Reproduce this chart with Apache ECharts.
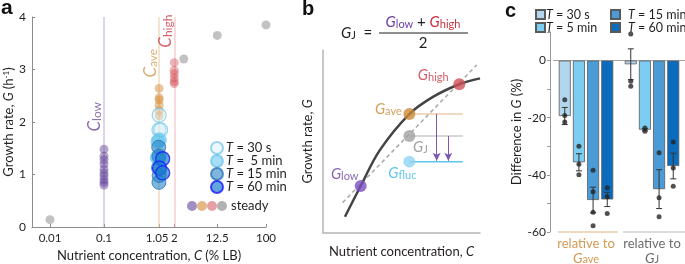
<!DOCTYPE html>
<html><head><meta charset="utf-8">
<script src="https://cdn.jsdelivr.net/npm/echarts@6/dist/echarts.min.js"></script>
<style>html,body{margin:0;padding:0;background:#fff}#c{width:685px;height:264px}</style>
</head><body><div id="c"></div>
<script>
// ---------------- Panel a data ----------------
const aTicks = [0.01, 0.1, 1.05, 2, 12.5, 100];
const cLow = 0.1, cAve = 1.05, cHigh = 2;
const steadyLowG = [1.48, 1.35, 1.28, 1.2, 1.1, 1.03, 0.97, 0.9, 0.85, 0.8];
const steadyAveG = [2.64, 2.46, 2.42, 2.32, 2.22, 2.12];
const steadyHighG = [3.13, 2.98, 2.92, 2.84, 2.77, 2.73];
const steadyOtherC = [0.01, 3, 12.5, 100];
const steadyOtherG = [0.14, 3.2, 3.65, 3.85];
const fluc30sC = [1.05, 1.04, 1.12];
const fluc30sG = [2.13, 1.85, 1.85];
const fluc5mC = [1.0, 1.06, 0.97, 1.03];
const fluc5mG = [1.63, 1.66, 1.32, 1.30];
const fluc15mC = [1.03, 1.04, 1.02, 1.05, 1.04];
const fluc15mG = [1.52, 1.35, 1.13, 0.98, 0.85];
const fluc60mC = [1.22, 1.07, 1.22];
const fluc60mG = [1.30, 1.12, 1.03];
// centre height (in G) of the rotated C labels
const cLowLabelG = 2.1, cAveLabelG = 3.12, cHighLabelG = 3.73;

// ---------------- Panel b (schematic) data ----------------
const curveX = [1.40, 2.40, 3.63, 5.50, 7.03, 8.68, 10];
const curveY = [0.89, 2.57, 4.54, 6.50, 7.45, 8.13, 8.45];
const diagX = [1.25, 9.79];
const diagY = [1.66, 9.18];
const ptLow = [2.40, 2.57], ptAve = [5.5, 6.5], ptHigh = [8.68, 8.13], ptJ = [5.5, 5.3], ptFluc = [5.5, 3.9];
const levelEndX = 8.9;
const arrowX = [7.24, 7.98];

// ---------------- Panel c data ----------------
const cGroups = ['ave', 'J'];
const diff30s = [-19.4, -1.3], err30s = [3.0, 5.4], pts30s = [[-13.7, -19.2, -21.5], [9.3, -7.2, -9.0]];
const diff5m = [-35.6, -24.2], err5m = [3.0, 0.4], pts5m = [[-30, -36.3, -40], [-23.6, -24.7]];
const diff15m = [-48.8, -45.0], err15m = [4.5, 6.8], pts15m = [[-38.4, -45.9, -53.1, -57.8], [-32.3, -48, -54.7]];
const diff60m = [-48.6, -36.9], err60m = [2.5, 4.5], pts60m = [[-44.5, -47.7, -53.5], [-28.5, -37.6, -44]];

const FONT = 'Lato, "Noto Sans", sans-serif';
const TXT = '#231f20';
const zip = (xs, ys) => xs.map((x, i) => [x, ys[i]]);

const chart = echarts.init(document.getElementById('c'));

const subRich = (color, gs, ss, key) => {
  key = key || 'color';
  const G = {fontSize: gs, fontStyle: 'italic', fontFamily: FONT, lineHeight: gs, padding: [0, 0, 4, 0], verticalAlign: 'top'};
  const s = {fontSize: ss, fontFamily: FONT, lineHeight: ss, verticalAlign: 'bottom'};
  G[key] = color; s[key] = color;
  return {G, s};
};

// label offset is in the rotated frame: -y moves it left of the line
const cLabelItem = (c, g, sub, color) => ({
  value: [c, g],
  label: {show: true, position: 'inside', rotate: 90, offset: [0, -9], formatter: '{G|C}{s|' + sub + '}', rich: subRich(color, 17, 12)}
});

// ---- panel a series
const steadyStyle = {
  low: 'rgba(104,72,156,0.62)', ave: 'rgba(214,146,66,0.65)', high: 'rgba(212,84,90,0.55)', other: 'rgba(165,165,165,0.85)'
};
const aSeries = [
  {name: 'steadyLow', type: 'scatter', xAxisIndex: 0, yAxisIndex: 0, z: 3, symbolSize: 9,
   data: steadyLowG.map(g => [cLow, g]), itemStyle: {color: steadyStyle.low},
   markLine: {silent: true, symbol: 'none', z: 1, label: {show: false},
     data: [
       {xAxis: cLow, lineStyle: {color: 'rgba(170,150,205,0.4)', width: 2, type: 'solid'}},
       {xAxis: cAve, lineStyle: {color: 'rgba(232,200,160,0.5)', width: 2, type: 'solid'}},
       {xAxis: cHigh, lineStyle: {color: 'rgba(238,175,180,0.45)', width: 2, type: 'solid'}}
     ]}},
  {name: 'cLabels', type: 'scatter', xAxisIndex: 0, yAxisIndex: 0, z: 6, symbolSize: 1, silent: true,
   itemStyle: {color: 'rgba(0,0,0,0)'},
   data: [
     cLabelItem(cLow, cLowLabelG, 'low', '#6a4a9c'),
     cLabelItem(cAve, cAveLabelG, 'ave', '#d39a52'),
     cLabelItem(cHigh, cHighLabelG, 'high', '#cc3f48')
   ]},
  {name: 'steadyAve', type: 'scatter', xAxisIndex: 0, yAxisIndex: 0, z: 3, symbolSize: 9,
   data: steadyAveG.map(g => [cAve, g]), itemStyle: {color: steadyStyle.ave}},
  {name: 'steadyHigh', type: 'scatter', xAxisIndex: 0, yAxisIndex: 0, z: 3, symbolSize: 9,
   data: steadyHighG.map(g => [cHigh, g]), itemStyle: {color: steadyStyle.high}},
  {name: 'steadyOther', type: 'scatter', xAxisIndex: 0, yAxisIndex: 0, z: 3, symbolSize: 9,
   data: zip(steadyOtherC, steadyOtherG), itemStyle: {color: steadyStyle.other}},
  {name: 'a30', type: 'scatter', xAxisIndex: 0, yAxisIndex: 0, z: 4, symbolSize: 14,
   data: zip(fluc30sC, fluc30sG), itemStyle: {color: 'rgba(215,238,248,0.55)', borderColor: 'rgba(120,200,235,0.95)', borderWidth: 1.2}},
  {name: 'a5', type: 'scatter', xAxisIndex: 0, yAxisIndex: 0, z: 4, symbolSize: 14,
   data: zip(fluc5mC, fluc5mG), itemStyle: {color: 'rgba(95,196,238,0.7)', borderColor: 'rgba(95,190,235,0.8)', borderWidth: 1}},
  {name: 'a15', type: 'scatter', xAxisIndex: 0, yAxisIndex: 0, z: 4, symbolSize: 14,
   data: zip(fluc15mC, fluc15mG), itemStyle: {color: 'rgba(32,128,200,0.72)', borderColor: 'rgba(25,105,175,0.85)', borderWidth: 1}},
  {name: 'a60', type: 'scatter', xAxisIndex: 0, yAxisIndex: 0, z: 5, symbolSize: 14,
   data: zip(fluc60mC, fluc60mG), itemStyle: {color: 'rgba(25,125,205,0.85)', borderColor: '#1a1aff', borderWidth: 1.3}}
];
const aLegendNames = {a30: '{i|T} = 30 s', a5: '{i|T} =  5 min', a15: '{i|T} = 15 min', a60: '{i|T} = 60 min'};

// ---- panel b series
const ptLabel = (sub, color, off) => ({
  show: true, position: 'inside', offset: off, formatter: '{G|G}{s|' + sub + '}', rich: subRich(color, 15, 11)
});
const bSeries = [
  {type: 'line', xAxisIndex: 1, yAxisIndex: 1, data: zip(diagX, diagY), symbol: 'none', silent: true,
   lineStyle: {color: '#a8a8a8', width: 1.5, type: [4, 3]}, z: 2},
  {type: 'line', xAxisIndex: 1, yAxisIndex: 1, data: zip(curveX, curveY), symbol: 'none', smooth: 0.35, silent: true,
   lineStyle: {color: '#444', width: 2.5}, z: 3},
  {type: 'line', xAxisIndex: 1, yAxisIndex: 1, data: [ptAve, [levelEndX, ptAve[1]]], symbol: 'none', silent: true,
   lineStyle: {color: 'rgba(232,200,160,0.9)', width: 1.5}, z: 2},
  {type: 'line', xAxisIndex: 1, yAxisIndex: 1, data: [ptJ, [levelEndX, ptJ[1]]], symbol: 'none', silent: true,
   lineStyle: {color: '#c9c9c9', width: 1.5}, z: 2},
  {type: 'line', xAxisIndex: 1, yAxisIndex: 1, data: [ptFluc, [levelEndX, ptFluc[1]]], symbol: 'none', silent: true,
   lineStyle: {color: '#5cc6ee', width: 1.5}, z: 2,
   markLine: {silent: true, symbol: ['none', 'arrow'], symbolSize: [6, 8], label: {show: false},
     lineStyle: {color: '#7b56b3', width: 1, type: 'solid'},
     data: [
       [{coord: [arrowX[0], ptAve[1]]}, {coord: [arrowX[0], ptFluc[1] + 0.05]}],
       [{coord: [arrowX[1], ptJ[1]]}, {coord: [arrowX[1], ptFluc[1] + 0.05]}]
     ]}},
  {type: 'scatter', xAxisIndex: 1, yAxisIndex: 1, symbolSize: 12, z: 5, silent: true,
   data: [
     {value: ptLow, itemStyle: {color: '#7a4fc0'}, label: ptLabel('low', '#6a3fa0', [-16, -12])},
     {value: ptAve, itemStyle: {color: '#cc8a35'}, label: ptLabel('ave', '#c98a35', [-21, -5])},
     {value: ptHigh, itemStyle: {color: '#cf5058'}, label: ptLabel('high', '#c8333f', [-26, -9])},
     {value: ptJ, itemStyle: {color: '#a3a3a3'}, label: ptLabel('J', '#8a8a8a', [11, 11])},
     {value: ptFluc, itemStyle: {color: '#8dd5f3'}, label: ptLabel('fluc', '#3bb5e8', [-7, 12])}
   ]}
];

// ---- panel c series
const BARW = 12, BARGAP = 0.18, STEP = BARW * (1 + BARGAP);
const cSpec = [
  {name: 'c30', label: '{i|T} = 30 s', color: '#b3d6ef', d: diff30s, e: err30s, p: pts30s},
  {name: 'c5', label: '{i|T} = 5 min', color: '#7ccdf1', d: diff5m, e: err5m, p: pts5m},
  {name: 'c15', label: '{i|T} = 15 min', color: '#4b9bd7', d: diff15m, e: err15m, p: pts15m},
  {name: 'c60', label: '{i|T} = 60 min', color: '#0b6cbd', d: diff60m, e: err60m, p: pts60m}
];
const cSeries = [];
cSpec.forEach((s, k) => {
  const off = (k - 1.5) * STEP;
  const bar = {name: s.name, type: 'bar', xAxisIndex: 2, yAxisIndex: 2, data: s.d, barWidth: BARW, barGap: (BARGAP * 100) + '%',
    itemStyle: {color: s.color, borderColor: '#5a5a5a', borderWidth: 0.8}, z: 2, silent: true};
  if (k === 0) {
    bar.markLine = {silent: true, symbol: 'none', label: {show: false}, lineStyle: {color: '#a6a6a6', width: 1, type: 'solid'},
      data: [{yAxis: 0}], z: 1};
  }
  cSeries.push(bar);
  cSeries.push({type: 'custom', xAxisIndex: 2, yAxisIndex: 2, z: 4, silent: true,
    data: s.d.map((m, i) => [i, m - s.e[i], m + s.e[i]]),
    renderItem: (params, api) => {
      const a = api.coord([api.value(0), api.value(1)]);
      const b = api.coord([api.value(0), api.value(2)]);
      const x = a[0] + off;
      const st = {stroke: '#333', lineWidth: 1};
      return {type: 'group', children: [
        {type: 'line', shape: {x1: x, y1: a[1], x2: x, y2: b[1]}, style: st},
        {type: 'line', shape: {x1: x - 3, y1: a[1], x2: x + 3, y2: a[1]}, style: st},
        {type: 'line', shape: {x1: x - 3, y1: b[1], x2: x + 3, y2: b[1]}, style: st}
      ]};
    }});
  const dots = [];
  s.p.forEach((arr, i) => arr.forEach(v => dots.push([i, v])));
  cSeries.push({type: 'scatter', xAxisIndex: 2, yAxisIndex: 2, z: 5, silent: true, data: dots, symbolSize: 5,
    symbolOffset: [off, 0], itemStyle: {color: '#262626'}});
});
const cLegendNames = {}; cSpec.forEach(s => cLegendNames[s.name] = s.label);

const legendRich = {i: {fontStyle: 'italic', fontSize: 13, lineHeight: 13, fontFamily: FONT, color: TXT}};
const legendRichC = {i: {fontStyle: 'italic', fontSize: 12.5, lineHeight: 13, fontFamily: FONT, color: TXT}};
const axisNameStyle = () => ({fontSize: 13, fontFamily: FONT, color: TXT,
  rich: {n: {fontSize: 13, fontFamily: FONT, color: TXT}, i: {fontSize: 13, fontFamily: FONT, color: TXT, fontStyle: 'italic'},
         sup: {fontSize: 8, fontFamily: FONT, color: TXT, verticalAlign: 'top', lineHeight: 8}}});

const option = {
  animation: false,
  textStyle: {fontFamily: FONT},
  grid: [
    {left: 32, top: 17, width: 234, height: 210, outerBoundsMode: 'none', containLabel: false},
    {left: 323, top: 50, width: 157, height: 183, outerBoundsMode: 'none', containLabel: false},
    {left: 553, top: 32, width: 132, height: 200, outerBoundsMode: 'none', containLabel: false}
  ],
  xAxis: [
    {gridIndex: 0, type: 'log', logBase: 10, min: 0.00464, max: 100,
     axisLine: {show: true, lineStyle: {color: '#8c8c8c', width: 1}},
     axisTick: {show: true, inside: true, length: 3, customValues: aTicks, lineStyle: {color: '#8c8c8c'}},
     axisLabel: {customValues: aTicks, hideOverlap: false, fontSize: 11.5, fontFamily: FONT, color: TXT, margin: 5,
       formatter: v => {
         const s = String(+(+v).toPrecision(3));
         return s === '1.05' ? '{l|' + s + '}' : s;
       },
       rich: {l: {fontSize: 11.5, fontFamily: FONT, color: TXT, padding: [0, 4, 0, 0]}}},
     splitLine: {show: false}, minorTick: {show: false},
     name: '{n|Nutrient concentration, }{i|C}{n| (% LB)}', nameLocation: 'middle', nameGap: 19, nameTextStyle: axisNameStyle()},
    {gridIndex: 1, type: 'value', min: 0, max: 10,
     axisLine: {show: true, lineStyle: {color: '#b5b5b5', width: 1.5}}, axisTick: {show: false}, axisLabel: {show: false}, splitLine: {show: false},
     name: '{n|Nutrient concentration, }{i|C}', nameLocation: 'middle', nameGap: 12, nameTextStyle: axisNameStyle()},
    {gridIndex: 2, type: 'category', data: cGroups,
     axisLine: {show: false}, axisTick: {show: false},
     axisLabel: {interval: 0, margin: 5, lineHeight: 14,
       formatter: v => v === 'ave' ? '{o|relative to}\n{oG|G}{os|ave}' : '{g|relative to}\n{gG|G}{gs|J}',
       rich: {
         o: {color: '#d39a52', fontSize: 13, fontFamily: FONT, lineHeight: 14},
         oG: {color: '#d39a52', fontSize: 14, fontFamily: FONT, fontStyle: 'italic', lineHeight: 14, padding: [0, 0, 3, 0], verticalAlign: 'top'},
         os: {color: '#d39a52', fontSize: 11, fontFamily: FONT, lineHeight: 11, verticalAlign: 'bottom'},
         g: {color: '#6d6d6d', fontSize: 13, fontFamily: FONT, lineHeight: 14},
         gG: {color: '#6d6d6d', fontSize: 14, fontFamily: FONT, fontStyle: 'italic', lineHeight: 14, padding: [0, 0, 3, 0], verticalAlign: 'top'},
         gs: {color: '#6d6d6d', fontSize: 11, fontFamily: FONT, lineHeight: 11, verticalAlign: 'bottom'}
       }}}
  ],
  yAxis: [
    {gridIndex: 0, type: 'value', min: 0, max: 4, interval: 1,
     axisLine: {show: true, lineStyle: {color: '#8c8c8c', width: 1}},
     axisTick: {show: true, inside: true, length: 3, lineStyle: {color: '#8c8c8c'}},
     axisLabel: {fontSize: 12, fontFamily: FONT, color: TXT, margin: 6}, splitLine: {show: false},
     name: '{n|Growth rate, }{i|G}{n| (h}{sup|-1}{n|)}', nameLocation: 'middle', nameGap: 16, nameTextStyle: axisNameStyle()},
    {gridIndex: 1, type: 'value', min: 0, max: 10,
     axisLine: {show: true, lineStyle: {color: '#b5b5b5', width: 1.5}}, axisTick: {show: false}, axisLabel: {show: false}, splitLine: {show: false},
     name: '{n|Growth rate, }{i|G}', nameLocation: 'middle', nameGap: 9, nameTextStyle: axisNameStyle()},
    {gridIndex: 2, type: 'value', min: -60, max: 10, interval: 10, offset: 3,
     axisLine: {show: true, lineStyle: {color: '#9a9a9a', width: 1}},
     axisTick: {show: true, length: 3, lineStyle: {color: '#9a9a9a'}},
     axisLabel: {fontSize: 12, fontFamily: FONT, color: TXT, margin: 4,
       formatter: v => (v <= 0 && v % 20 === 0) ? String(v) : ''},
     splitLine: {show: false},
     name: '{n|Difference in }{i|G}{n| (%)}', nameLocation: 'middle', nameGap: 24, nameTextStyle: axisNameStyle()}
  ],
  legend: [
    {orient: 'vertical', left: 205, top: 136, itemWidth: 12, itemHeight: 12, itemGap: -1, icon: 'circle', selectedMode: false,
     data: ['a30', 'a5', 'a15', 'a60'], formatter: n => aLegendNames[n],
     textStyle: {fontSize: 13, lineHeight: 13, fontFamily: FONT, color: TXT, padding: [0, 0, 0, -2], rich: legendRich}},
    {orient: 'vertical', left: 530, top: 3, itemWidth: 9, itemHeight: 9, itemGap: 0, icon: 'rect', selectedMode: false,
     data: ['c30', 'c5'], formatter: n => cLegendNames[n],
     textStyle: {fontSize: 12.5, lineHeight: 13, fontFamily: FONT, color: TXT, padding: [0, 0, 0, -4], rich: legendRichC}},
    {orient: 'vertical', left: 605, top: 3, itemWidth: 9, itemHeight: 9, itemGap: 0, icon: 'rect', selectedMode: false,
     data: ['c15', 'c60'], formatter: n => cLegendNames[n],
     textStyle: {fontSize: 12.5, lineHeight: 13, fontFamily: FONT, color: TXT, padding: [0, 0, 0, 3], rich: legendRichC}}
  ],
  series: [].concat(aSeries, bSeries, cSeries)
};
chart.setOption(option);

// ---------- annotations ----------
const pc = (x, y) => chart.convertToPixel({xAxisIndex: 2, yAxisIndex: 2}, [x, y]);
const c0 = pc(0, -60), c1 = pc(1, -60);
const halfBand = (c1[0] - c0[0]) / 2;
const steadyDots = [steadyStyle.low, steadyStyle.ave, steadyStyle.high, steadyStyle.other];
const graphics = [
  {type: 'text', left: 1, top: -2, style: {text: 'a', fontSize: 21, fontFamily: 'Liberation Sans, Arial', fontWeight: 'bold', fill: '#111'}},
  {type: 'text', left: 302, top: -1, style: {text: 'b', fontSize: 20, fontFamily: 'Liberation Sans, Arial', fontWeight: 'bold', fill: '#111'}},
  {type: 'text', left: 505, top: 1, style: {text: 'c', fontSize: 20, fontFamily: 'Liberation Sans, Arial', fontWeight: 'bold', fill: '#111'}},
  // steady legend row
  ...steadyDots.map((col, i) => ({type: 'circle', shape: {cx: 192 + i * 10, cy: 206, r: 5}, style: {fill: col}})),
  {type: 'text', x: 231, y: 206, style: {text: 'steady', fontSize: 13, fontFamily: FONT, fill: TXT, verticalAlign: 'middle'}},
  // formula
  {type: 'text', x: 341, y: 33, style: {text: '{G|G}{s|J}{e|  =}', verticalAlign: 'middle',
     rich: Object.assign(subRich(TXT, 15, 11, 'fill'), {e: {fontSize: 15, fontFamily: FONT, fill: TXT, lineHeight: 15, padding: [0, 0, 4, 0], verticalAlign: 'top'}})}},
  {type: 'text', x: 423, y: 22, style: {text: '{pG|G}{ps|low}{pl| + }{rG|G}{rs|high}', align: 'center', verticalAlign: 'middle',
     rich: {
       pG: {fontSize: 15, fontStyle: 'italic', fontFamily: FONT, fill: '#6a3fa0', lineHeight: 15, padding: [0, 0, 4, 0], verticalAlign: 'top'},
       ps: {fontSize: 11, fontFamily: FONT, fill: '#6a3fa0', lineHeight: 11, verticalAlign: 'bottom'},
       pl: {fontSize: 15, fontFamily: FONT, fill: TXT, lineHeight: 15, padding: [0, 0, 4, 0], verticalAlign: 'top'},
       rG: {fontSize: 15, fontStyle: 'italic', fontFamily: FONT, fill: '#c8333f', lineHeight: 15, padding: [0, 0, 4, 0], verticalAlign: 'top'},
       rs: {fontSize: 11, fontFamily: FONT, fill: '#c8333f', lineHeight: 11, verticalAlign: 'bottom'}
     }}},
  {type: 'line', shape: {x1: 379, y1: 33, x2: 468, y2: 33}, style: {stroke: TXT, lineWidth: 1}},
  {type: 'text', x: 423, y: 43, style: {text: '2', fontSize: 15, fontFamily: FONT, fill: TXT, align: 'center', verticalAlign: 'middle'}},
  // panel c group underlines
  {type: 'line', shape: {x1: c0[0] - halfBand + 5, y1: c0[1], x2: c0[0] + halfBand - 1, y2: c0[1]}, style: {stroke: '#e2b27a', lineWidth: 1}},
  {type: 'line', shape: {x1: c1[0] - halfBand + 4, y1: c1[1], x2: c1[0] + halfBand, y2: c1[1]}, style: {stroke: '#b9b9b9', lineWidth: 1}}
];
chart.setOption({graphic: graphics});
</script>
</body></html>
